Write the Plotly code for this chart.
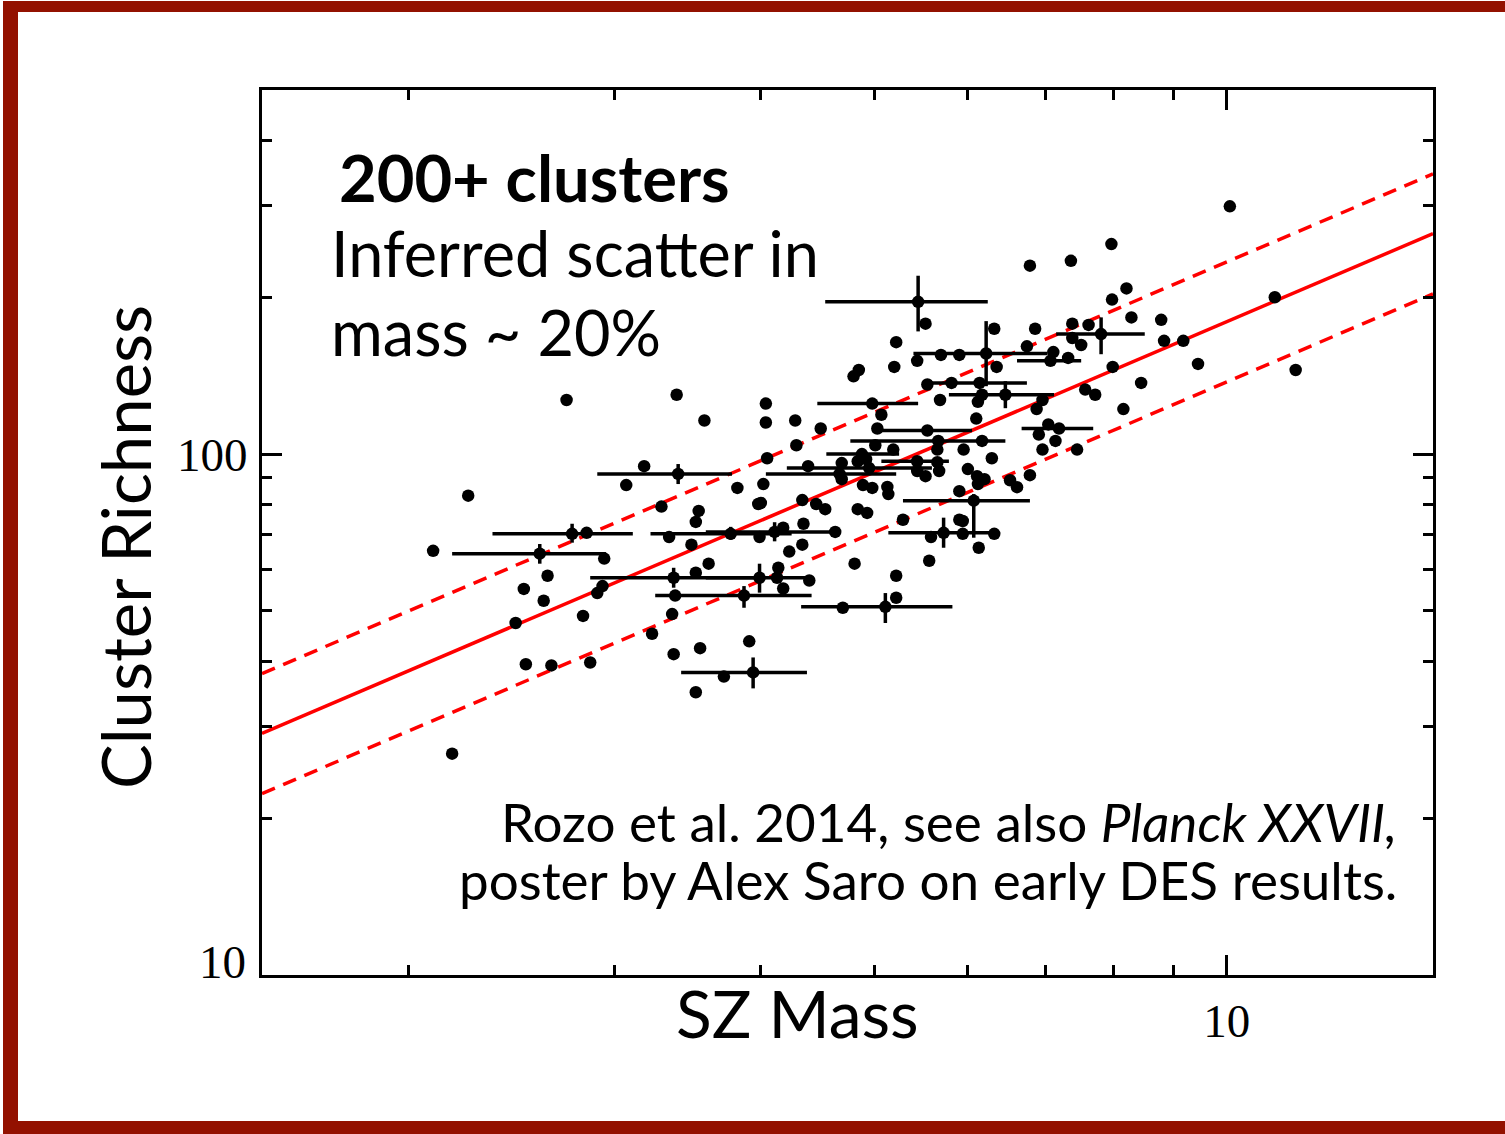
import plotly.graph_objects as go

# ---------------- data ----------------
# plain points: SZ mass, cluster richness
pt_mass = [2.10, 2.25, 2.18, 2.73, 2.84, 2.94, 2.63, 2.51, 2.61, 2.47, 2.82, 2.90, 2.93,
           3.52, 3.36, 3.23, 2.52, 2.65, 2.86, 3.37, 3.55, 3.52, 3.72, 3.91, 3.61, 4.14,
           4.13, 4.18, 4.40, 4.81, 5.57, 5.22, 5.22, 4.70, 4.80, 4.85, 5.20, 5.44, 5.55,
           5.82, 5.69, 6.18, 6.13, 4.04, 5.07, 3.58, 4.04, 4.28, 4.50, 5.03, 6.11, 5.66,
           4.29, 5.01, 5.19, 6.18, 5.96, 6.30, 4.05, 4.92, 4.84, 4.69, 5.66, 4.39, 5.44,
           5.53, 5.68, 6.01, 6.12, 6.21, 6.13, 4.69, 3.82, 4.02, 4.89, 4.98, 5.13, 5.14,
           5.91, 3.98, 4.00, 4.34, 4.46, 4.54, 4.84, 4.93, 3.54, 3.52, 5.29, 5.91, 5.95,
           4.18, 4.35, 4.63, 3.99, 5.95, 6.33, 5.59, 6.14, 4.34, 4.23, 3.07, 3.18, 3.29,
           3.49, 3.39, 6.36, 7.11, 7.32, 7.99, 9.45, 11.45, 6.96, 6.88, 7.57, 7.72, 8.45,
           8.16, 7.04, 6.91, 7.14, 6.96, 7.45, 6.53, 6.62, 6.79, 5.53, 5.22, 5.70, 5.91,
           6.33, 10.06, 7.97, 6.79, 7.36, 8.21, 7.98, 10.99, 8.29, 8.79, 6.86, 7.38, 7.62,
           7.38, 7.51, 6.75, 8.84, 9.18, 3.38, 3.34]
pt_rich = [65.2, 83.2, 26.6, 127, 70.6, 63.0, 58.4, 55.1, 52.3, 47.4, 48.9, 54.1, 55.8,
           59.2, 49.3, 45.2, 39.5, 39.3, 39.8, 41.3, 42.4, 34.9, 37.4, 43.7, 61.6, 60.5,
           57.9, 55.2, 57.2, 61.6, 62.4, 58.4, 53.0, 50.7, 141, 145, 147, 151, 136,
           137, 127, 130, 126, 125, 119, 116, 115, 116, 112, 112, 117, 102,
           104, 104, 102, 106, 102, 98.2, 98.2, 97.8, 96.9, 96.1, 96.5, 94.8, 92.8,
           90.7, 92.8, 93.6, 90.7, 89.5, 87.6, 89.5, 86.1, 87.6, 87.2, 86.1, 86.5, 83.8,
           84.9, 80.2, 80.6, 81.6, 80.2, 78.4, 78.4, 77.1, 77.8, 74.1, 74.8, 74.8, 74.4,
           72.2, 73.5, 70.9, 69.3, 70.3, 70.3, 69.3, 66.1, 67.0, 65.0, 87.2, 94.8, 79.3,
           67.0, 130, 147, 157, 153, 147, 149, 145, 127, 122, 133, 130, 137,
           122, 114, 109, 106, 102, 102, 89.1, 86.4, 91.1, 178, 164, 155, 155,
           174, 299, 253, 230, 235, 208, 198, 200, 183, 181, 174, 178, 177,
           167, 162, 161, 165, 165, 53.5, 69.3]

# points with error bars: centre, and lower / upper ends of the bars
eb_mass    = [2.59, 2.76, 3.40, 3.37, 3.99, 3.87, 5.11, 3.94, 4.98, 5.55, 5.45, 6.23, 6.47,
              7.81, 6.08, 5.73, 3.77, 4.11, 5.67, 4.88, 5.44, 4.95, 4.67, 7.07, 6.15, 7.19]
eb_mass_lo = [2.18, 2.36, 2.90, 2.86, 3.59, 3.25, 4.33, 3.42, 4.47, 4.98, 4.54, 5.40, 5.79,
              7.15, 5.29, 5.14, 3.22, 3.59, 4.77, 4.55, 5.07, 4.21, 4.04, 6.62, 5.57, 6.68]
eb_mass_hi = [2.95, 3.11, 3.78, 3.98, 4.41, 4.42, 5.83, 4.38, 5.45, 6.06, 6.25, 7.03, 7.12,
              8.51, 6.79, 6.38, 4.25, 4.63, 6.47, 5.25, 5.79, 5.60, 5.22, 7.51, 6.75, 7.69]
eb_rich    = [64.4, 70.3, 91.6, 57.9, 57.9, 53.5, 50.9, 38.1, 125, 111, 196, 156, 130,
              170, 81.4, 70.6, 70.3, 70.9, 106, 100, 96.9, 94.0, 91.6, 151, 137, 112]
eb_rich_lo = [61.6, 67.6, 87.6, 55.4, 54.2, 50.7, 47.4, 35.5, 125, 111, 172, 135, 122.5,
              155.5, 69.1, 66.1, 68.5, 68.0, 106, 100, 96.9, 94.0, 91.6, 151, 137, 112]
eb_rich_hi = [67.2, 73.5, 95.7, 60.5, 61.6, 55.8, 54.1, 40.7, 125, 111, 220, 180, 138,
              183, 83.8, 75.5, 72.5, 74.0, 106, 100, 96.9, 94.0, 91.6, 151, 137, 112]

# best-fit relation and +/- scatter band (end points at the axis limits)
fit_mass = [1.5, 15.0]
fit_rich = [29.1, 265.0]
fit_rich_hi = [37.9, 345.0]
fit_rich_lo = [22.3, 203.0]

x_major = [10]
x_minor = [2, 3, 4, 5, 6, 7, 8, 9]
y_major = [10, 100]
y_minor = [20, 30, 40, 50, 60, 70, 80, 90, 200, 300, 400]

# ---------------- figure ----------------
W, H = 1505, 1134
L, R, T, B = 262, 1433, 90, 975


def fx(X):
    return (X - L) / (R - L)


def fy(Y):
    return (B - Y) / (B - T)


fig = go.Figure()

fig.add_trace(go.Scatter(x=fit_mass, y=fit_rich_hi, mode="lines",
                         line=dict(color="#ff0000", width=3.5, dash="14px,9px"),
                         hoverinfo="skip", showlegend=False))
fig.add_trace(go.Scatter(x=fit_mass, y=fit_rich_lo, mode="lines",
                         line=dict(color="#ff0000", width=3.5, dash="14px,9px"),
                         hoverinfo="skip", showlegend=False))
fig.add_trace(go.Scatter(x=fit_mass, y=fit_rich, mode="lines",
                         line=dict(color="#ff0000", width=3.5),
                         hoverinfo="skip", showlegend=False))

fig.add_trace(go.Scatter(x=pt_mass, y=pt_rich, mode="markers",
                         marker=dict(color="black", size=12.5),
                         showlegend=False))

ex_plus = [h - c for h, c in zip(eb_mass_hi, eb_mass)]
ex_minus = [c - l for l, c in zip(eb_mass_lo, eb_mass)]
ey_plus = [h - c for h, c in zip(eb_rich_hi, eb_rich)]
ey_minus = [c - l for l, c in zip(eb_rich_lo, eb_rich)]

fig.add_trace(go.Scatter(
    x=eb_mass, y=eb_rich, mode="markers",
    marker=dict(color="black", size=12.5),
    error_x=dict(type="data", symmetric=False, array=ex_plus, arrayminus=ex_minus,
                 color="black", thickness=3.5, width=0),
    error_y=dict(type="data", symmetric=False, array=ey_plus, arrayminus=ey_minus,
                 color="black", thickness=3.5, width=0),
    showlegend=False))

tickfont = dict(family="Liberation Serif", size=47, color="black")

fig.update_xaxes(type="log", range=[0.17609, 1.17609],
                 showline=True, linecolor="black", linewidth=3, mirror="allticks",
                 ticks="inside", ticklen=20, tickwidth=3, tickcolor="black",
                 tickmode="array", tickvals=x_major, ticktext=[str(v) for v in x_major],
                 tickfont=tickfont, ticklabelstandoff=3,
                 minor=dict(ticks="inside", ticklen=10, tickwidth=3, tickcolor="black",
                            tickmode="array", tickvals=x_minor, showgrid=False),
                 showgrid=False, zeroline=False)
# the lowest y label ("10") is placed as an annotation, as in the reference it sits above the axis
fig.update_yaxes(type="log", range=[1.0, 2.69897],
                 showline=True, linecolor="black", linewidth=3, mirror="allticks",
                 ticks="inside", ticklen=20, tickwidth=3, tickcolor="black",
                 tickmode="array", tickvals=y_major,
                 ticktext=["" if v == y_major[0] else str(v) for v in y_major],
                 tickfont=tickfont, ticklabelstandoff=2,
                 minor=dict(ticks="inside", ticklen=10, tickwidth=3, tickcolor="black",
                            tickmode="array", tickvals=y_minor, showgrid=False),
                 showgrid=False, zeroline=False)

sans = "Lato"
ann = []
ann.append(dict(text=str(y_major[0]), x=fx(247), y=fy(962), xanchor="right",
                yanchor="middle", font=tickfont))
ann.append(dict(text="<b>200+ clusters</b>", x=fx(338), y=fy(177), xanchor="left",
                yanchor="middle", font=dict(family=sans, size=65, color="black")))
ann.append(dict(text="Inferred scatter in", x=fx(330), y=fy(253), xanchor="left",
                yanchor="middle", font=dict(family=sans, size=63, color="black")))
ann.append(dict(text="mass ~ 20%", x=fx(330), y=fy(332), xanchor="left",
                yanchor="middle", font=dict(family=sans, size=63, color="black")))
ann.append(dict(text="Rozo et al. 2014, see also <i>Planck XXVII,</i>", x=fx(1398), y=fy(821),
                xanchor="right", yanchor="middle",
                font=dict(family=sans, size=53, color="black")))
ann.append(dict(text="poster by Alex Saro on early DES results.", x=fx(1398), y=fy(879),
                xanchor="right", yanchor="middle",
                font=dict(family=sans, size=53, color="black")))
ann.append(dict(text="SZ Mass", x=fx(797), y=fy(1012), xanchor="center",
                yanchor="middle", font=dict(family=sans, size=66, color="black")))
ann.append(dict(text="Cluster Richness", x=fx(125), y=fy(547), xanchor="center",
                yanchor="middle", textangle=-90,
                font=dict(family=sans, size=67, color="black")))
for a in ann:
    a.update(xref="paper", yref="paper", showarrow=False, borderpad=0)

border = "#931100"
shapes = [
    dict(type="rect", x0=fx(3), x1=fx(18), y0=fy(1), y1=fy(H), fillcolor=border, line_width=0),
    dict(type="rect", x0=fx(3), x1=fx(W), y0=fy(1), y1=fy(12), fillcolor=border, line_width=0),
    dict(type="rect", x0=fx(3), x1=fx(W), y0=fy(1121), y1=fy(H), fillcolor=border, line_width=0),
]
for s in shapes:
    s.update(xref="paper", yref="paper", layer="above")

fig.update_layout(width=W, height=H,
                  margin=dict(l=L, r=W - R, t=T, b=H - B, autoexpand=False),
                  paper_bgcolor="white", plot_bgcolor="white",
                  annotations=ann, shapes=shapes, showlegend=False)

fig.write_html("out.html")
